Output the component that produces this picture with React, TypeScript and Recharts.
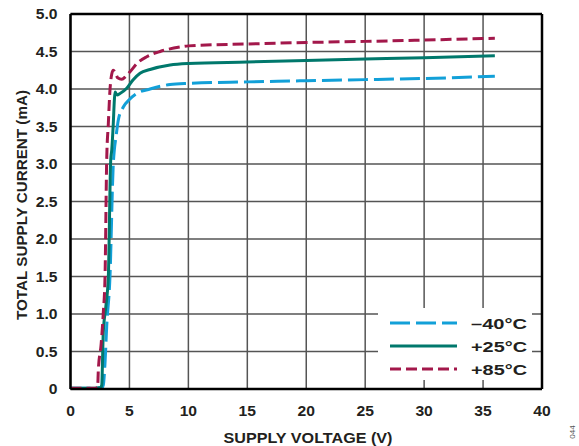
import React from 'react';
import { LineChart, Line, XAxis, YAxis, CartesianGrid, ReferenceLine } from 'recharts';

const xTicks = [0, 5, 10, 15, 20, 25, 30, 35, 40];
const yTicks = [0, 0.5, 1.0, 1.5, 2.0, 2.5, 3.0, 3.5, 4.0, 4.5, 5.0];
const seriesNames = ['–40°C', '+25°C', '+85°C'];
const seriesColors = ['#12a0d8', '#00786c', '#a3184b'];
const seriesDash = ['20 6', '', '11 5'];

const voltsM40 = [0, 2.0, 2.7, 2.78, 2.93, 3.07, 3.35, 3.63, 3.72, 3.85, 4.06, 4.48, 5.0, 5.62, 6.75, 8.45, 10, 15, 20, 25, 30, 36];
const currM40 = [0.01, 0.01, 0.02, 0.05, 0.35, 0.83, 1.5, 3.0, 3.19, 3.35, 3.59, 3.76, 3.86, 3.94, 4.0, 4.06, 4.076, 4.095, 4.11, 4.125, 4.14, 4.17];

const volts25 = [0, 2.0, 2.55, 2.65, 2.78, 3.0, 3.21, 3.41, 3.5, 3.63, 3.72, 3.78, 3.95, 4.2, 4.77, 5.3, 5.9, 6.75, 8.45, 10, 15, 20, 25, 30, 36];
const curr25 = [0.01, 0.01, 0.02, 0.05, 0.75, 1.1, 1.5, 3.05, 3.19, 3.54, 3.85, 3.96, 3.92, 3.94, 4.01, 4.12, 4.21, 4.26, 4.32, 4.34, 4.36, 4.38, 4.4, 4.417, 4.444];

const volts85 = [0, 2.0, 2.3, 2.36, 2.6, 2.78, 2.93, 3.07, 3.21, 3.35, 3.5, 3.63, 3.8, 4.0, 4.35, 4.7, 5.05, 5.7, 6.47, 7.6, 9.3, 10, 15, 20, 25, 30, 36];
const curr85 = [0.01, 0.01, 0.02, 0.25, 0.6, 1.01, 1.5, 3.05, 3.54, 3.99, 4.2, 4.25, 4.22, 4.15, 4.13, 4.17, 4.23, 4.35, 4.43, 4.5, 4.56, 4.575, 4.6, 4.62, 4.635, 4.653, 4.676];

const toRows = (v: number[], c: number[]) => v.map((x, i) => ({ v: x, i: c[i] }));
const seriesData = [toRows(voltsM40, currM40), toRows(volts25, curr25), toRows(volts85, curr85)];

const FONT = '"Liberation Sans", Arial, sans-serif';
const INK = '#231f20';

const XTick = (p: any) => (
  <text
    transform={`translate(${p.x},${p.y}) scale(1.12,1)`}
    textAnchor="middle"
    dy="0.71em"
    fontSize={14}
    fontWeight="bold"
    fontFamily={FONT}
    fill={INK}
  >
    {p.payload.value}
  </text>
);

const YTick = (p: any) => {
  const v = p.payload.value as number;
  return (
    <text
      transform={`translate(${p.x},${p.y}) scale(1.12,1)`}
      textAnchor="end"
      dy="0.38em"
      fontSize={14}
      fontWeight="bold"
      fontFamily={FONT}
      fill={INK}
    >
      {v === 0 ? '0' : v.toFixed(1)}
    </text>
  );
};

export default function App() {
  return (
    <div style={{ position: 'absolute', left: 0, top: 0, width: 579, height: 446, background: '#fff' }}>
      <LineChart width={579} height={446} margin={{ top: 14, right: 37, bottom: 0, left: 0 }}>
        <CartesianGrid stroke="#555" strokeWidth={1.5} />
        <XAxis
          dataKey="v"
          type="number"
          domain={[0, 40]}
          ticks={xTicks}
          height={57}
          tickSize={0}
          tickMargin={17}
          tick={<XTick />}
          axisLine={{ stroke: '#000', strokeWidth: 2.5 }}
          tickLine={false}
          allowDuplicatedCategory={false}
        />
        <YAxis
          dataKey="i"
          type="number"
          domain={[0, 5]}
          ticks={yTicks}
          width={70.5}
          tickSize={0}
          tickMargin={13}
          tick={<YTick />}
          axisLine={{ stroke: '#000', strokeWidth: 2.5 }}
          tickLine={false}
        />
        <ReferenceLine y={5} stroke="#000" strokeWidth={2.5} />
        <ReferenceLine x={40} stroke="#000" strokeWidth={2.5} />
        {seriesData.map((d, k) => (
          <Line
            key={seriesNames[k]}
            data={d}
            dataKey="i"
            type="monotone"
            stroke={seriesColors[k]}
            strokeWidth={3}
            strokeDasharray={seriesDash[k] || undefined}
            dot={false}
            activeDot={false}
            isAnimationActive={false}
          />
        ))}
      </LineChart>
      <div
        style={{
          position: 'absolute',
          left: 378,
          top: 308,
          width: 154,
          height: 72,
          background: '#fff',
        }}
      >
        <svg width={154} height={72} style={{ display: 'block' }}>
          {seriesNames.map((n, k) => (
            <g key={n} transform={`translate(0, ${15 + k * 23})`}>
              <line x1={12} x2={79} y1={0} y2={0} stroke={seriesColors[k]} strokeWidth={3} strokeDasharray={seriesDash[k] || undefined} />
              <text x={93} y={5.5} fontSize={15} fontWeight="bold" fontFamily={FONT} fill={INK} textLength={56} lengthAdjust="spacingAndGlyphs">
                {n}
              </text>
            </g>
          ))}
        </svg>
      </div>
      <svg width={579} height={446} style={{ position: 'absolute', left: 0, top: 0, pointerEvents: 'none' }}>
        <text
          x={0}
          y={0}
          transform="translate(27, 205) rotate(-90)"
          textAnchor="middle"
          fontSize={15}
          fontWeight="bold"
          fontFamily={FONT}
          fill={INK}
          textLength={230}
          lengthAdjust="spacingAndGlyphs"
        >
          TOTAL SUPPLY CURRENT (mA)
        </text>
        <text
          x={308}
          y={443}
          textAnchor="middle"
          fontSize={15}
          fontWeight="bold"
          fontFamily={FONT}
          fill={INK}
          textLength={169}
          lengthAdjust="spacingAndGlyphs"
        >
          SUPPLY VOLTAGE (V)
        </text>
        <text
          x={0}
          y={0}
          transform="translate(575, 432) rotate(-90)"
          textAnchor="middle"
          fontSize={8}
          fontFamily={FONT}
          fill="#555"
        >
          044
        </text>
      </svg>
    </div>
  );
}
